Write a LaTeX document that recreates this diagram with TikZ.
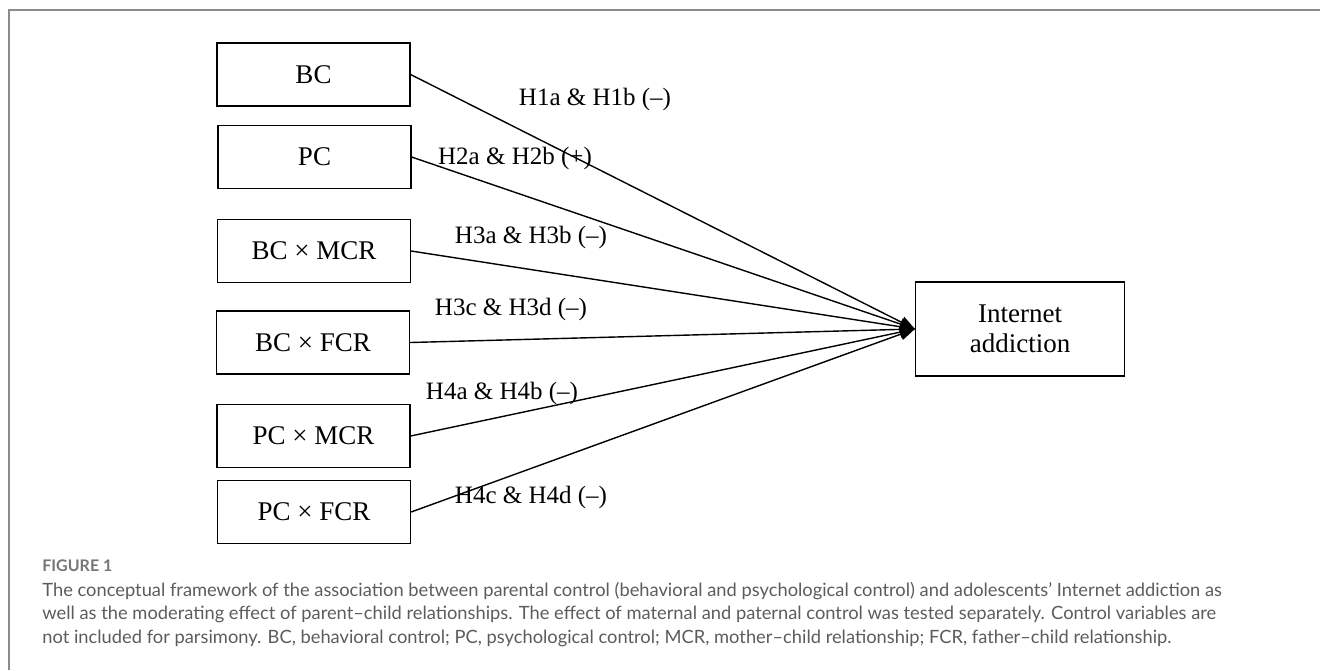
\documentclass[tikz,border=0pt]{standalone}
\usepackage{fontspec}
\setmainfont{Liberation Serif}
\newfontfamily\capfont{Lato}
\usepackage{xcolor}
\usetikzlibrary{arrows.meta}

\definecolor{framegray}{HTML}{8C8C8C}
\definecolor{capgray}{HTML}{5C5C5C}

\begin{document}
\begin{tikzpicture}[x=0.5pt, y=-0.5pt,
        varbox/.style={draw, line width=0.6pt, inner sep=0pt,
            minimum width=96.5pt, minimum height=31.5pt,
            font=\fontsize{13.5}{15}\selectfont},
        hyplabel/.style={inner sep=0pt, font=\fontsize{12.5}{14}\selectfont},
        hyparrow/.style={-{Triangle[length=7.5pt,width=6pt]}, line width=0.7pt},
        captext/.style={anchor=base west, inner sep=0pt, text=capgray,
            font=\capfont\fontsize{9.15}{11.75}\selectfont}]
            \useasboundingbox (0,0) rectangle (1320,670);
            \draw [framegray, line width=1pt] (9,670) -- (9,10) -- (1320,10);
            % predictors and moderated terms
            \node [varbox] (bc) at (313.5,74.5) {BC};
            \node [varbox] (pc) at (314.5,157) {PC};
            \node [varbox] (bcmcr) at (314,251) {BC × MCR};
            \node [varbox] (bcfcr) at (313,342.5) {BC × FCR};
            \node [varbox] (pcmcr) at (313.5,436) {PC × MCR};
            \node [varbox] (pcfcr) at (314,512) {PC × FCR};
            % outcome
            \node [varbox, minimum width=104.5pt, minimum height=47pt, align=center] (ia) at (1020,329) {Internet\\addiction};
            % hypothesised paths
            \draw [hyparrow] (bc.east) -- (ia.west);
            \draw [hyparrow] (pc.east) -- (ia.west);
            \draw [hyparrow] (bcmcr.east) -- (ia.west);
            \draw [hyparrow] (bcfcr.east) -- (ia.west);
            \draw [hyparrow] (pcmcr.east) -- (ia.west);
            \draw [hyparrow] (pcfcr.east) -- (ia.west);
            \node [hyplabel] (hone) at (595,99) {H1a \& H1b (–)};
            \node [hyplabel] (htwo) at (515,158) {H2a \& H2b (+)};
            \node [hyplabel] (hthreeab) at (531,237) {H3a \& H3b (–)};
            \node [hyplabel] (hthreecd) at (511,309) {H3c \& H3d (–)};
            \node [hyplabel] (hfourab) at (502,393) {H4a \& H4b (–)};
            \node [hyplabel] (hfourcd) at (531,497) {H4c \& H4d (–)};
            % caption
            \node [captext, font=\capfont\bfseries\fontsize{8}{9}\selectfont, text=capgray!85] (figno) at (42,571) {FIGURE 1};
            \node [captext] (capa) at (42,596) {The conceptual framework of the association between parental control (behavioral and psychological control) and adolescents’ Internet addiction as};
            \node [captext] (capb) at (42,619.5) {well as the moderating effect of parent–child relationships. The effect of maternal and paternal control was tested separately. Control variables are};
            \node [captext] (capc) at (42,643) {not included for parsimony. BC, behavioral control; PC, psychological control; MCR, mother–child relationship; FCR, father–child relationship.};
        \end{tikzpicture}
\end{document}
